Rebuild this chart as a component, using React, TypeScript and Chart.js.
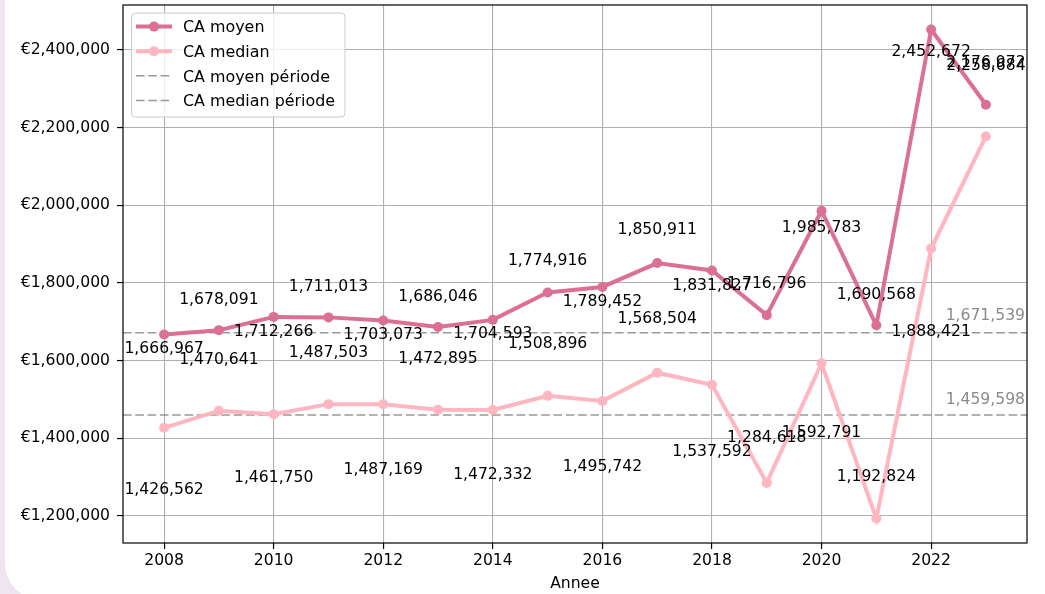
import React, { useEffect, useRef } from 'react';
import { Chart, registerables } from 'chart.js';

Chart.register(...registerables);

const years = [2008, 2009, 2010, 2011, 2012, 2013, 2014, 2015, 2016, 2017, 2018, 2019, 2020, 2021, 2022, 2023];
const caMoyen = [1666967, 1678091, 1712266, 1711013, 1703073, 1686046, 1704593, 1774916, 1789452, 1850911, 1831827, 1716796, 1985783, 1690568, 2452672, 2258684];
const caMedian = [1426562, 1470641, 1461750, 1487503, 1487169, 1472895, 1472332, 1508896, 1495742, 1568504, 1537592, 1284618, 1592791, 1192824, 1888421, 2176972];
const caMoyenPeriode = 1671539;
const caMedianPeriode = 1459598;
const xTicks = [2008, 2010, 2012, 2014, 2016, 2018, 2020, 2022];
const yTicks = [1200000, 1400000, 1600000, 1800000, 2000000, 2200000, 2400000];

const FS = 15.6;
const FONT = '"DejaVu Sans"';
const C_MOYEN = '#DB7093';
const C_MEDIAN = '#FFB6C1';
const C_PERIOD = 'rgba(128,128,128,0.8)';

const fmt = (v: number) => Math.round(v).toLocaleString('en-US');

const xSpan = years[years.length - 1] - years[0];
const xMin = years[0] - xSpan * 0.05;
const xMax = years[years.length - 1] + xSpan * 0.05;
const allVals = [...caMoyen, ...caMedian];
const vMin = Math.min(...allVals);
const vMax = Math.max(...allVals);
const yMin = vMin - (vMax - vMin) * 0.05;
const yMax = vMax + (vMax - vMin) * 0.05;

const overlayPlugin = {
  id: 'overlay',
  afterDatasetsDraw(chart: any) {
    const { ctx, chartArea } = chart;
    const x = chart.scales.x;
    const y = chart.scales.y;
    ctx.save();
    ctx.font = `${FS}px ${FONT}`;
    ctx.textAlign = 'center';
    ctx.textBaseline = 'alphabetic';
    ctx.fillStyle = '#000';
    years.forEach((yr, i) => {
      const px = x.getPixelForValue(yr);
      const odd = i % 2 === 1;
      ctx.fillText(fmt(caMoyen[i]), px, y.getPixelForValue(caMoyen[i] * (odd ? 1.04 : 0.972)));
    });
    years.forEach((yr, i) => {
      const px = x.getPixelForValue(yr);
      const odd = i % 2 === 1;
      ctx.fillText(fmt(caMedian[i]), px, y.getPixelForValue(caMedian[i] * (odd ? 1.082 : 0.88)));
    });
    ctx.fillStyle = '#8a8a8a';
    ctx.textAlign = 'right';
    ctx.fillText(fmt(caMoyenPeriode), chartArea.right - 2, y.getPixelForValue(caMoyenPeriode * 1.02));
    ctx.fillText(fmt(caMedianPeriode), chartArea.right - 2, y.getPixelForValue(caMedianPeriode * 1.02));

    // frame
    ctx.strokeStyle = '#000';
    ctx.lineWidth = 1.2;
    ctx.strokeRect(chartArea.left, chartArea.top, chartArea.right - chartArea.left, chartArea.bottom - chartArea.top);

    // legend
    const lx = 131.5, ly = 13, lw = 213.5, lh = 104, r = 4;
    ctx.beginPath();
    ctx.moveTo(lx + r, ly);
    ctx.lineTo(lx + lw - r, ly);
    ctx.quadraticCurveTo(lx + lw, ly, lx + lw, ly + r);
    ctx.lineTo(lx + lw, ly + lh - r);
    ctx.quadraticCurveTo(lx + lw, ly + lh, lx + lw - r, ly + lh);
    ctx.lineTo(lx + r, ly + lh);
    ctx.quadraticCurveTo(lx, ly + lh, lx, ly + lh - r);
    ctx.lineTo(lx, ly + r);
    ctx.quadraticCurveTo(lx, ly, lx + r, ly);
    ctx.closePath();
    ctx.fillStyle = 'rgba(255,255,255,0.8)';
    ctx.fill();
    ctx.strokeStyle = '#cccccc';
    ctx.lineWidth = 1;
    ctx.stroke();

    ctx.font = `${FS + 0.3}px ${FONT}`;
    chart.data.datasets.forEach((ds: any, i: number) => {
      const base = 32.3 + i * 24.6;
      const cy = base - 5.7;
      ctx.save();
      ctx.strokeStyle = ds.borderColor;
      ctx.lineWidth = ds.borderWidth;
      ctx.setLineDash(ds.borderDash || []);
      ctx.beginPath();
      ctx.moveTo(136, cy);
      ctx.lineTo(172, cy);
      ctx.stroke();
      ctx.setLineDash([]);
      if (ds.pointRadius > 0) {
        ctx.fillStyle = ds.borderColor;
        ctx.beginPath();
        ctx.arc(154, cy, ds.pointRadius, 0, Math.PI * 2);
        ctx.fill();
      }
      ctx.restore();
      ctx.fillStyle = '#000';
      ctx.textAlign = 'left';
      ctx.textBaseline = 'alphabetic';
      ctx.fillText(ds.label, 183, base);
    });
    ctx.restore();
  },
};

export default function App() {
  const ref = useRef<HTMLCanvasElement | null>(null);

  useEffect(() => {
    if (!ref.current) return;
    Chart.defaults.font.family = FONT;
    Chart.defaults.font.size = FS;
    Chart.defaults.color = '#000';
    const chart = new Chart(ref.current, {
      type: 'line',
      data: {
        datasets: [
          {
            label: 'CA moyen',
            data: years.map((yr, i) => ({ x: yr, y: caMoyen[i] })),
            borderColor: C_MOYEN,
            backgroundColor: C_MOYEN,
            pointBackgroundColor: C_MOYEN,
            borderWidth: 4,
            pointRadius: 5,
            pointBorderWidth: 0,
            tension: 0,
          },
          {
            label: 'CA median',
            data: years.map((yr, i) => ({ x: yr, y: caMedian[i] })),
            borderColor: C_MEDIAN,
            backgroundColor: C_MEDIAN,
            pointBackgroundColor: C_MEDIAN,
            borderWidth: 4,
            pointRadius: 5,
            pointBorderWidth: 0,
            tension: 0,
          },
          {
            label: 'CA moyen période',
            data: [{ x: xMin, y: caMoyenPeriode }, { x: xMax, y: caMoyenPeriode }],
            borderColor: C_PERIOD,
            borderWidth: 1.5,
            borderDash: [8.6, 3.7],
            pointRadius: 0,
          },
          {
            label: 'CA median période',
            data: [{ x: xMin, y: caMedianPeriode }, { x: xMax, y: caMedianPeriode }],
            borderColor: C_PERIOD,
            borderWidth: 1.5,
            borderDash: [8.6, 3.7],
            pointRadius: 0,
          },
        ] as any,
      },
      options: {
        animation: false,
        responsive: false,
        layout: { padding: { top: 5, right: 18, left: 0, bottom: 0 } },
        plugins: { legend: { display: false }, tooltip: { enabled: false } },
        scales: {
          x: {
            type: 'linear',
            min: xMin,
            max: xMax,
            afterBuildTicks: (s: any) => {
              s.ticks = xTicks.map((v) => ({ value: v }));
            },
            afterFit: (s: any) => {
              s.height = 51;
              s.paddingLeft = 0;
              s.paddingRight = 0;
              s.paddingTop = 0;
              s.paddingBottom = 0;
            },
            grid: { color: '#b0b0b0', lineWidth: 1.1, tickLength: 6, tickColor: '#000', tickWidth: 1.2 },
            border: { display: false },
            ticks: {
              padding: 3,
              color: '#000',
              maxRotation: 0,
              autoSkip: false,
              font: { size: FS, family: FONT },
              callback: (v: any) => String(v),
            },
            title: {
              display: true,
              text: 'Annee',
              color: '#000',
              font: { size: FS, family: FONT },
              padding: { top: 0, bottom: 1 },
            },
          },
          y: {
            type: 'linear',
            min: yMin,
            max: yMax,
            afterBuildTicks: (s: any) => {
              s.ticks = yTicks.map((v) => ({ value: v }));
            },
            afterFit: (s: any) => {
              s.width = 123;
              s.paddingLeft = 0;
              s.paddingRight = 0;
              s.paddingTop = 0;
              s.paddingBottom = 0;
            },
            grid: { color: '#b0b0b0', lineWidth: 1.1, tickLength: 6, tickColor: '#000', tickWidth: 1.2 },
            border: { display: false },
            ticks: {
              padding: 7,
              color: '#000',
              autoSkip: false,
              font: { size: FS, family: FONT },
              callback: (v: any) => '€' + Number(v).toLocaleString('en-US'),
            },
          },
        },
      } as any,
      plugins: [overlayPlugin],
    });
    return () => chart.destroy();
  }, []);

  return (
    <div style={{ position: 'fixed', left: 0, top: 0, width: 1045, height: 594, background: '#eee6ef', overflow: 'hidden' }}>
      <div style={{ position: 'absolute', left: 5, top: -40, width: 1100, height: 640, background: '#fff', borderRadius: 37 }} />
      <canvas ref={ref} width={1045} height={594} style={{ position: 'absolute', left: 0, top: 0, width: 1045, height: 594 }} />
    </div>
  );
}
